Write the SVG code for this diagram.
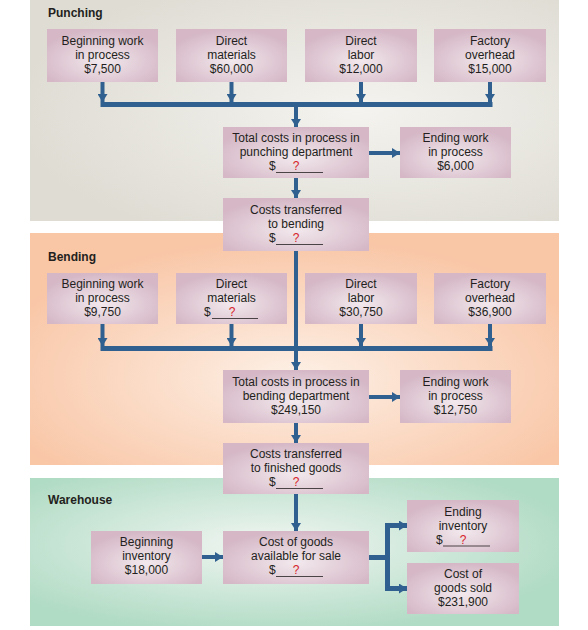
<svg xmlns="http://www.w3.org/2000/svg" width="588" height="630" viewBox="0 0 588 630">
<defs>
<radialGradient id="gPunch" cx="0.62" cy="0.5" r="0.65">
<stop offset="0" stop-color="#f4f3ef"/>
<stop offset="1" stop-color="#dedcd3"/>
</radialGradient>
<radialGradient id="gBend" cx="0.5" cy="0.62" r="0.6">
<stop offset="0" stop-color="#fdf0e6"/>
<stop offset="1" stop-color="#f9c6a6"/>
</radialGradient>
<radialGradient id="gWare" cx="0.45" cy="0.45" r="0.6">
<stop offset="0" stop-color="#f1f6f2"/>
<stop offset="1" stop-color="#b0dbc4"/>
</radialGradient>
<radialGradient id="gBox" cx="0.5" cy="0.6" r="0.6">
<stop offset="0" stop-color="#f2e9ed"/>
<stop offset="1" stop-color="#d5b7c6"/>
</radialGradient>
<marker id="ah" viewBox="0 0 8 10" refX="8" refY="5" markerWidth="8" markerHeight="10" markerUnits="userSpaceOnUse" orient="auto">
<path d="M0,0 L8,5 L0,10 z" fill="#30608f"/>
</marker>
<style>
.box{fill:url(#gBox);}
.t{font-family:"Liberation Sans",Arial,sans-serif;font-size:12px;fill:#231f20;text-anchor:middle;}
.h{font-family:"Liberation Sans",Arial,sans-serif;font-size:12px;font-weight:bold;fill:#231f20;}
.q{font-family:"Liberation Sans",Arial,sans-serif;font-size:12px;fill:#d7232a;text-anchor:middle;}
.d{font-family:"Liberation Sans",Arial,sans-serif;font-size:12px;fill:#231f20;}
.ul{stroke:#231f20;stroke-width:0.8;}
.a{fill:none;stroke:#30608f;stroke-width:4;marker-end:url(#ah);}
.bus{fill:none;stroke:#30608f;stroke-width:5;}
</style>
</defs>

<g id="panels">
<rect x="30" y="0" width="529" height="221" fill="url(#gPunch)"/>
<rect x="30" y="233" width="529" height="232" fill="url(#gBend)"/>
<rect x="30" y="478" width="529" height="148" fill="url(#gWare)"/>
<text class="h" x="48" y="17">Punching</text>
<text class="h" x="48" y="261">Bending</text>
<text class="h" x="48" y="504">Warehouse</text>
</g>

<g id="connectors">
<!-- Punching -->
<path class="a" d="M102.5,82 V102"/>
<path class="a" d="M231.5,82 V102"/>
<path class="a" d="M361,82 V102"/>
<path class="a" d="M490,82 V102"/>
<path class="bus" d="M100.5,104.5 H492.5"/>
<path class="a" d="M296,107 V127"/>
<path class="a" d="M296,178 V198"/>
<path class="a" d="M369,153 H400"/>
<!-- Bending -->
<path class="a" d="M296,251 V370"/>
<path class="a" d="M102.5,324 V346"/>
<path class="a" d="M231.5,324 V346"/>
<path class="a" d="M361,324 V346"/>
<path class="a" d="M490,324 V346"/>
<path class="bus" d="M100.5,348.5 H492.5"/>
<path class="a" d="M369,397 H400"/>
<path class="a" d="M296,423 V443"/>
<!-- Warehouse -->
<path class="a" d="M296,494 V531"/>
<path class="a" d="M202,557 H223"/>
<path class="bus" d="M369,557.5 H388"/>
<path class="a" d="M387.5,557 V525.5 H407" style="stroke-width:5"/>
<path class="a" d="M387.5,557 V588.5 H407" style="stroke-width:5"/>
</g>

<g id="p-bwip">
<rect class="box" x="47" y="29" width="111" height="53"/>
<text class="t" x="102.5" y="45">Beginning work</text>
<text class="t" x="102.5" y="59">in process</text>
<text class="t" x="102.5" y="73">$7,500</text>
</g>
<g id="p-dm">
<rect class="box" x="176" y="29" width="111" height="53"/>
<text class="t" x="231.5" y="45">Direct</text>
<text class="t" x="231.5" y="59">materials</text>
<text class="t" x="231.5" y="73">$60,000</text>
</g>
<g id="p-dl">
<rect class="box" x="305" y="29" width="112" height="53"/>
<text class="t" x="361" y="45">Direct</text>
<text class="t" x="361" y="59">labor</text>
<text class="t" x="361" y="73">$12,000</text>
</g>
<g id="p-foh">
<rect class="box" x="434" y="29" width="112" height="53"/>
<text class="t" x="490" y="45">Factory</text>
<text class="t" x="490" y="59">overhead</text>
<text class="t" x="490" y="73">$15,000</text>
</g>
<g id="p-total">
<rect class="box" x="223" y="127" width="146" height="51"/>
<text class="t" x="296" y="142">Total costs in process in</text>
<text class="t" x="296" y="156">punching department</text>
<text class="d" x="269" y="170">$</text>
<line class="ul" x1="276" y1="172.5" x2="323" y2="172.5"/>
<text class="q" x="296" y="170">?</text>
</g>
<g id="p-ewip">
<rect class="box" x="400" y="127" width="111" height="51"/>
<text class="t" x="455.5" y="142">Ending work</text>
<text class="t" x="455.5" y="156">in process</text>
<text class="t" x="455.5" y="170">$6,000</text>
</g>
<g id="p-transfer">
<rect class="box" x="223" y="198" width="146" height="53"/>
<text class="t" x="296" y="214">Costs transferred</text>
<text class="t" x="296" y="228">to bending</text>
<text class="d" x="269" y="242">$</text>
<line class="ul" x1="276" y1="244.5" x2="323" y2="244.5"/>
<text class="q" x="296" y="242">?</text>
</g>

<g id="b-bwip">
<rect class="box" x="47" y="273" width="111" height="51"/>
<text class="t" x="102.5" y="288">Beginning work</text>
<text class="t" x="102.5" y="302">in process</text>
<text class="t" x="102.5" y="316">$9,750</text>
</g>
<g id="b-dm">
<rect class="box" x="176" y="273" width="111" height="51"/>
<text class="t" x="231.5" y="288">Direct</text>
<text class="t" x="231.5" y="302">materials</text>
<text class="d" x="204" y="316">$</text>
<line class="ul" x1="212" y1="318.5" x2="258" y2="318.5"/>
<text class="q" x="232" y="316">?</text>
</g>
<g id="b-dl">
<rect class="box" x="305" y="273" width="112" height="51"/>
<text class="t" x="361" y="288">Direct</text>
<text class="t" x="361" y="302">labor</text>
<text class="t" x="361" y="316">$30,750</text>
</g>
<g id="b-foh">
<rect class="box" x="434" y="273" width="112" height="51"/>
<text class="t" x="490" y="288">Factory</text>
<text class="t" x="490" y="302">overhead</text>
<text class="t" x="490" y="316">$36,900</text>
</g>
<g id="b-total">
<rect class="box" x="223" y="370" width="146" height="53"/>
<text class="t" x="296" y="386">Total costs in process in</text>
<text class="t" x="296" y="400">bending department</text>
<text class="t" x="296" y="414">$249,150</text>
</g>
<g id="b-ewip">
<rect class="box" x="400" y="370" width="111" height="53"/>
<text class="t" x="455.5" y="386">Ending work</text>
<text class="t" x="455.5" y="400">in process</text>
<text class="t" x="455.5" y="414">$12,750</text>
</g>
<g id="b-transfer">
<rect class="box" x="223" y="443" width="146" height="51"/>
<text class="t" x="296" y="458">Costs transferred</text>
<text class="t" x="296" y="472">to finished goods</text>
<text class="d" x="269" y="486">$</text>
<line class="ul" x1="276" y1="488.5" x2="323" y2="488.5"/>
<text class="q" x="296" y="486">?</text>
</g>

<g id="w-begin">
<rect class="box" x="91" y="531" width="111" height="53"/>
<text class="t" x="146.5" y="546">Beginning</text>
<text class="t" x="146.5" y="560">inventory</text>
<text class="t" x="146.5" y="574">$18,000</text>
</g>
<g id="w-coga">
<rect class="box" x="223" y="531" width="146" height="53"/>
<text class="t" x="296" y="546">Cost of goods</text>
<text class="t" x="296" y="560">available for sale</text>
<text class="d" x="269" y="574">$</text>
<line class="ul" x1="276" y1="576.5" x2="323" y2="576.5"/>
<text class="q" x="296" y="574">?</text>
</g>
<g id="w-ending">
<rect class="box" x="407" y="500" width="112" height="52"/>
<text class="t" x="463" y="515.5">Ending</text>
<text class="t" x="463" y="529.5">inventory</text>
<text class="d" x="436" y="543.5">$</text>
<line class="ul" x1="443" y1="546" x2="490" y2="546"/>
<text class="q" x="463" y="543.5">?</text>
</g>
<g id="w-cogs">
<rect class="box" x="407" y="563" width="112" height="51"/>
<text class="t" x="463" y="578">Cost of</text>
<text class="t" x="463" y="592">goods sold</text>
<text class="t" x="463" y="606">$231,900</text>
</g>
</svg>
